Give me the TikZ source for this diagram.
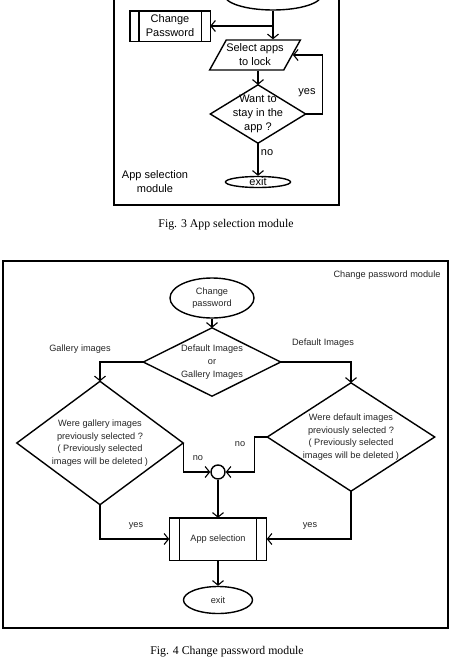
\documentclass[tikz,border=0pt]{standalone}
\usepackage{fontspec}
\setmainfont{Liberation Sans}
\newfontfamily\capfont{Liberation Serif}
\usetikzlibrary{shapes.geometric,arrows.meta,calc}
\tikzset{
  ln/.style={line width=1.4pt},
  arr/.style={ln,-{Straight Barb[length=4.5pt,width=11pt,line width=1.1pt]}},
  tA/.style={font=\fontsize{11}{14}\selectfont,align=center,inner sep=0pt},
  tB/.style={font=\fontsize{9.2}{12.7}\selectfont,align=center,inner sep=0pt,text=black!85},
  ell/.style={ellipse,draw,ln,inner sep=0pt},
  dbox/.style={rectangle,inner sep=0pt},
  figcap/.style={font=\capfont\fontsize{11.8}{13}\selectfont,inner sep=0pt},
}
\newcommand{\dmd}[1]{\draw[ln] (#1.north) -- (#1.east) -- (#1.south) -- (#1.west) -- cycle;}
\newcommand{\pproc}[2]{\draw[ln] (#1.south west) rectangle (#1.north east);
  \draw[ln] ([xshift=#2]#1.south west) -- ([xshift=#2]#1.north west);
  \draw[ln] ([xshift=-#2]#1.south east) -- ([xshift=-#2]#1.north east);}
\begin{document}
\begin{tikzpicture}[x=1pt,y=-1pt]
\useasboundingbox (0,0) rectangle (472,662);
\clip (0,0) rectangle (472,662);
\fill[white] (0,0) rectangle (472,662);
% ---------- Fig 3 ----------
\draw[ln] (114,-5) rectangle (339,205);
\node[ell,tA,minimum width=97pt,minimum height=30pt] (top) at (273,-5) {App selection};
\node[dbox,tA,minimum width=80pt,minimum height=30pt] (cpw) at (170,26) {Change\\Password};
\pproc{cpw}{9pt}
\node[trapezium,draw,ln,trapezium left angle=53,trapezium right angle=127,trapezium stretches body,minimum width=90pt,minimum height=30pt,inner sep=0pt,tA] (sel) at (255,55) {Select apps\\to lock};
\node[dbox,tA,minimum width=95pt,minimum height=58pt] (want) at (258,114) {Want to\\stay in the\\app ?};
\dmd{want}
\node[ell,tA,minimum width=65pt,minimum height=11pt,text height=6pt,text depth=0pt] (exit1) at (258,182) {exit};
\node[tA] (modl) at (155,182) {App selection\\module};
\coordinate (br) at (top.south |- cpw.east);
\draw[ln] (top.south) -- (br);
\draw[arr] (br) -- (top.south |- sel.north);
\draw[arr] (br) -- (cpw.east);
\draw[arr] (want.north |- sel.south) -- (want.north);
\draw[arr] (want.east) -- ++(17,0) coordinate (yc) |- (sel.east);
\node[tA] (yes1) at (307,93) {yes};
\draw[arr] (want.south) -- (exit1.north);
\node[tA] (no1) at (267,153) {no};
\node[figcap] (cap3) at (226,225) {Fig. 3 App selection module};
% ---------- Fig 4 ----------
\draw[ln] (3,261) rectangle (448,628);
\node[tB] (mtitle) at (387,275) {Change password module};
\node[ell,tB,minimum width=84pt,minimum height=40pt] (cp) at (212,298) {Change\\password};
\node[dbox,tB,minimum width=137pt,minimum height=68pt] (dq) at (212,362) {Default Images\\or\\Gallery Images};
\dmd{dq}
\node[dbox,tB,minimum width=166pt,minimum height=123pt] (gal) at (100,443) {Were gallery images\\previously selected ?\\( Previously selected\\images will be deleted )};
\dmd{gal}
\node[dbox,tB,minimum width=167pt,minimum height=108pt] (def) at (351,437) {Were default images\\previously selected ?\\( Previously selected\\images will be deleted )};
\dmd{def}
\node[circle,draw,ln,minimum size=14pt,inner sep=0pt] (circ) at (218,472) {};
\node[dbox,tB,minimum width=97pt,minimum height=42pt] (app) at (218,539) {App selection};
\pproc{app}{10pt}
\node[ell,tB,minimum width=69pt,minimum height=27pt] (exit2) at (218,600) {exit};
\draw[arr] (cp.south) -- (dq.north);
\draw[arr] (dq.west) -| (gal.north);
\draw[arr] (dq.east) -| (def.north);
\node[tB] (lg) at (80,349) {Gallery images};
\node[tB] (ld) at (323,343) {Default Images};
\draw[arr] (gal.east) |- (circ.west);
\draw[arr] (def.west) -- ++(-13,0) |- (circ.east);
\node[tB] (no2) at (198,458) {no};
\node[tB] (no3) at (240,444) {no};
\draw[arr] (circ.south) -- (app.north);
\draw[arr] (gal.south) |- (app.west);
\draw[arr] (def.south) |- (app.east);
\node[tB] (y2) at (136,526) {yes};
\node[tB] (y3) at (310,526) {yes};
\draw[arr] (app.south) -- (exit2.north);
\node[figcap] (cap4) at (227,652) {Fig. 4 Change password module};
\end{tikzpicture}
\end{document}
